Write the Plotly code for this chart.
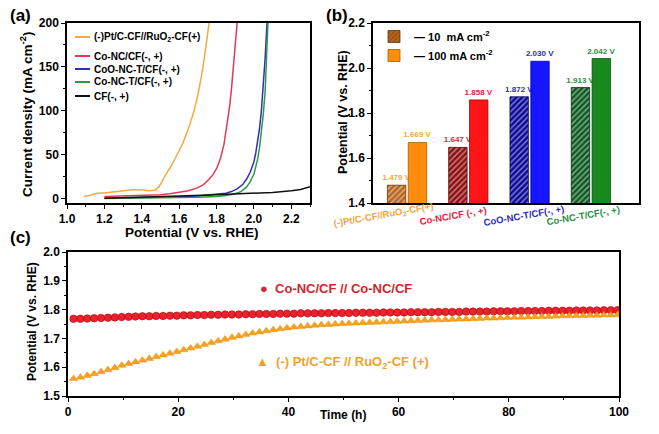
import plotly.graph_objects as go

W, H = 659, 434

# ---------------- Panel (a): polarization curves ----------------
a_names = ["(-)Pt/C-CF//RuO<sub>2</sub>-CF(+)", "Co-NC/CF(-, +)", "CoO-NC-T/CF(-, +)",
           "Co-NC-T/CF(-, +)", "CF(-, +)"]
a_colors = ["#f5a843", "#e23a52", "#2f2fb8", "#2e9a44", "#111111"]

pt_v = [1.09, 1.12, 1.15, 1.17, 1.20, 1.25, 1.30, 1.35, 1.40, 1.44, 1.47, 1.49, 1.51, 1.53,
        1.56, 1.59, 1.62, 1.65, 1.68, 1.70, 1.72, 1.74, 1.76]
pt_j = [2.5, 3.5, 5.5, 6.5, 6.5, 7.5, 9, 10, 10, 9, 9.5, 13, 20, 28, 38, 50, 63, 80, 100, 118,
        140, 168, 200]
conc_v = [1.20, 1.30, 1.40, 1.50, 1.55, 1.60, 1.65, 1.70, 1.73, 1.76, 1.78, 1.80, 1.82, 1.84,
          1.86, 1.87, 1.88, 1.89, 1.90, 1.91]
conc_j = [2.5, 3, 3.5, 4.5, 5.5, 7, 9, 12.5, 16, 22, 27, 34, 45, 62, 88, 105, 125, 148, 172, 200]
coo_v = [1.20, 1.40, 1.60, 1.70, 1.80, 1.85, 1.88, 1.91, 1.94, 1.96, 1.98, 2.00, 2.01, 2.02,
         2.03, 2.04, 2.05, 2.06, 2.07]
coo_j = [0.5, 1, 2, 3, 4.5, 6, 8, 11, 16, 22, 30, 42, 52, 64, 80, 100, 125, 160, 200]
cont_v = [1.20, 1.40, 1.60, 1.70, 1.80, 1.85, 1.90, 1.93, 1.96, 1.98, 2.00, 2.02, 2.03, 2.04,
          2.05, 2.06, 2.07, 2.075]
cont_j = [0, 0.5, 1, 1.5, 2.5, 3.5, 5.5, 8, 13, 19, 28, 45, 58, 75, 96, 122, 165, 200]
cf_v = [1.20, 1.40, 1.60, 1.80, 2.00, 2.10, 2.20, 2.25, 2.30]
cf_j = [0.5, 1.5, 3, 4.5, 6, 7, 9, 10.5, 13.5]
a_series = [(pt_v, pt_j), (conc_v, conc_j), (coo_v, coo_j), (cont_v, cont_j), (cf_v, cf_j)]

# ---------------- Panel (b): bar chart ----------------
b_categories = ["(-)Pt/C-CF//RuO<sub>2</sub>-CF(+)", "Co-NC/CF (-, +)", "CoO-NC-T/CF(-, +)",
                "Co-NC-T/CF(-, +)"]
b_10mA = [1.479, 1.647, 1.872, 1.913]
b_100mA = [1.669, 1.858, 2.030, 2.042]
b_label_colors = ["#f2a640", "#e8203a", "#2b2bc0", "#2a9040"]
b_hatch_bg = ["#b8661f", "#8e1010", "#0b0b96", "#0f5a22"]
b_hatch_fg = ["#6a3208", "#4e0000", "#00004e", "#032e0c"]
b_solid = ["#ff8c0a", "#ff1515", "#1515ff", "#17891f"]
b_solid_line = ["#b05a00", "#a00000", "#0000a0", "#0a5010"]

# ---------------- Panel (c): stability ----------------
time_h = [1.0, 2.25, 3.5, 4.75, 6.0, 7.25, 8.5, 9.75, 11.0, 12.25, 13.5, 14.75, 16.0, 17.25,
          18.5, 19.75, 21.0, 22.25, 23.5, 24.75, 26.0, 27.25, 28.5, 29.75, 31.0, 32.25, 33.5,
          34.75, 36.0, 37.25, 38.5, 39.75, 41.0, 42.25, 43.5, 44.75, 46.0, 47.25, 48.5, 49.75,
          51.0, 52.25, 53.5, 54.75, 56.0, 57.25, 58.5, 59.75, 61.0, 62.25, 63.5, 64.75, 66.0,
          67.25, 68.5, 69.75, 71.0, 72.25, 73.5, 74.75, 76.0, 77.25, 78.5, 79.75, 81.0, 82.25,
          83.5, 84.75, 86.0, 87.25, 88.5, 89.75, 91.0, 92.25, 93.5, 94.75, 96.0, 97.25, 98.5,
          99.75]
conc_pot = [1.768, 1.768, 1.769, 1.770, 1.771, 1.772, 1.773, 1.774, 1.775, 1.776, 1.777, 1.777,
            1.778, 1.778, 1.779, 1.779, 1.780, 1.780, 1.781, 1.781, 1.782, 1.782, 1.783, 1.783,
            1.783, 1.784, 1.784, 1.785, 1.785, 1.785, 1.786, 1.786, 1.786, 1.787, 1.787, 1.787,
            1.787, 1.788, 1.788, 1.788, 1.788, 1.789, 1.789, 1.789, 1.789, 1.790, 1.790, 1.790,
            1.790, 1.791, 1.791, 1.791, 1.791, 1.792, 1.792, 1.792, 1.792, 1.793, 1.793, 1.793,
            1.793, 1.794, 1.794, 1.794, 1.794, 1.795, 1.795, 1.795, 1.795, 1.796, 1.796, 1.796,
            1.796, 1.797, 1.797, 1.797, 1.797, 1.798, 1.798, 1.798]
ptc_pot = [1.560, 1.565, 1.571, 1.577, 1.584, 1.591, 1.598, 1.606, 1.612, 1.618, 1.624, 1.630,
           1.636, 1.642, 1.648, 1.654, 1.660, 1.666, 1.672, 1.678, 1.685, 1.691, 1.697, 1.703,
           1.708, 1.713, 1.718, 1.722, 1.726, 1.730, 1.733, 1.736, 1.739, 1.741, 1.743, 1.745,
           1.747, 1.748, 1.750, 1.751, 1.752, 1.753, 1.754, 1.755, 1.756, 1.757, 1.758, 1.759,
           1.760, 1.761, 1.762, 1.763, 1.764, 1.764, 1.765, 1.766, 1.767, 1.767, 1.768, 1.769,
           1.770, 1.770, 1.771, 1.772, 1.773, 1.773, 1.774, 1.775, 1.776, 1.776, 1.777, 1.778,
           1.778, 1.779, 1.779, 1.780, 1.780, 1.781, 1.781, 1.782]

FONT = "Liberation Sans, Arial, sans-serif"


def px(x):
    return x / W


def py(y):
    return 1 - y / H


fig = go.Figure()

# panel a traces
for name, col, (v, j) in zip(a_names, a_colors, a_series):
    fig.add_trace(go.Scatter(x=v, y=j, mode="lines", name=name, showlegend=False,
                             line=dict(color=col, width=1.5), xaxis="x", yaxis="y"))

# panel b traces
fig.add_trace(go.Bar(
    x=list(range(len(b_categories))), y=b_10mA, base=0, name="— 10  mA cm<sup>-2</sup>",
    offset=-0.32, width=0.3, xaxis="x2", yaxis="y2", legend="legend2",
    marker=dict(color=b_hatch_bg, line=dict(color=b_hatch_fg, width=0.8),
                pattern=dict(shape="/", bgcolor=b_hatch_bg, fgcolor=b_hatch_fg, size=4,
                             solidity=0.35)),
    texttemplate="%{y:.3f} V", textposition="outside", constraintext="none", cliponaxis=False,
    textfont=dict(color=b_label_colors, size=8, family=FONT, weight="bold")))
fig.add_trace(go.Bar(
    x=list(range(len(b_categories))), y=b_100mA, base=0, name="— 100 mA cm<sup>-2</sup>",
    offset=0.02, width=0.3, xaxis="x2", yaxis="y2", legend="legend2",
    marker=dict(color=b_solid, line=dict(color=b_solid_line, width=0.8)),
    texttemplate="%{y:.3f} V", textposition="outside", constraintext="none", cliponaxis=False,
    textfont=dict(color=b_label_colors, size=8, family=FONT, weight="bold")))

# panel c traces
fig.add_trace(go.Scatter(x=time_h, y=conc_pot, mode="markers", showlegend=False,
                         marker=dict(symbol="circle", size=7.5, color="#e8232c",
                                     line=dict(color="#b00010", width=0.6)),
                         xaxis="x3", yaxis="y3"))
fig.add_trace(go.Scatter(x=time_h, y=ptc_pot, mode="markers", showlegend=False,
                         marker=dict(symbol="triangle-up", size=7.5, color="#f7a21e",
                                     line=dict(color="#e08a00", width=0.4)),
                         xaxis="x3", yaxis="y3"))

tickfont = dict(family=FONT, size=12, color="black", weight="bold")
axis_common = dict(showline=True, linecolor="black", linewidth=1.5, mirror=True,
                   ticks="outside", ticklen=4, tickwidth=1.3, tickcolor="black",
                   showgrid=False, zeroline=False, tickfont=tickfont, automargin=False)

fig.update_layout(
    width=W, height=H, margin=dict(l=0, r=0, t=0, b=0, pad=0, autoexpand=False),
    paper_bgcolor="white", plot_bgcolor="white",
    font=dict(family=FONT, color="black"),
    barmode="overlay",
    xaxis=dict(domain=[px(67), px(310)], range=[1.0, 2.3], dtick=0.2, tick0=1.0,
               tickformat=".1f", anchor="y",
               minor=dict(dtick=0.1, ticks="outside", ticklen=2.5, tickcolor="black"),
               **axis_common),
    yaxis=dict(domain=[py(203), py(23)], range=[-5, 200], dtick=50, tick0=0, anchor="x",
               minor=dict(dtick=25, ticks="outside", ticklen=2.5, tickcolor="black"),
               **axis_common),
    xaxis2=dict(domain=[px(373), px(639)], range=[-0.555, 3.785], anchor="y2",
                showticklabels=False, showline=True, linecolor="black", linewidth=1.5,
                mirror=True, ticks="", showgrid=False, zeroline=False, automargin=False),
    yaxis2=dict(domain=[py(203), py(23)], range=[1.4, 2.2], dtick=0.2, tick0=1.4,
                tickformat=".1f", anchor="x2",
                minor=dict(dtick=0.1, ticks="outside", ticklen=2.5, tickcolor="black"),
                **axis_common),
    xaxis3=dict(domain=[px(68), px(619)], range=[0, 100], dtick=20, tick0=0, anchor="y3",
                minor=dict(dtick=10, ticks="outside", ticklen=2.5, tickcolor="black"),
                **axis_common),
    yaxis3=dict(domain=[py(396), py(252)], range=[1.5, 2.0], dtick=0.1, tick0=1.5,
                tickformat=".1f", anchor="x3",
                minor=dict(dtick=0.05, ticks="outside", ticklen=2.5, tickcolor="black"),
                **axis_common),
    yaxis4=dict(overlaying="y3", side="right", anchor="x3", range=[1.5, 2.0], dtick=0.1,
                tick0=1.5, tickformat=".1f",
                minor=dict(dtick=0.05, ticks="outside", ticklen=2.5, tickcolor="black"),
                showline=True, linecolor="black", linewidth=1.5, ticks="outside", ticklen=4,
                tickwidth=1.3, tickcolor="black", showgrid=False, zeroline=False,
                tickfont=tickfont, automargin=False),
    legend2=dict(x=px(374), y=py(22), xanchor="left", yanchor="top",
                 bgcolor="rgba(0,0,0,0)", font=dict(family=FONT, size=11, color="black",
                                                     weight="bold"),
                 tracegroupgap=0, itemwidth=30),
)


def A(text, x, y, **kw):
    d = dict(text=text, x=px(x), y=py(y), xref="paper", yref="paper", showarrow=False,
             xanchor="center", yanchor="middle")
    d.update(kw)
    return d


ann = []
# panel letters
for txt, x, y in [("(a)", 20, 15), ("(b)", 337, 15), ("(c)", 20, 237)]:
    ann.append(A(txt, x, y, font=dict(family=FONT, size=17, weight="bold")))
# axis titles
title_font = dict(family=FONT, size=13.5, weight="bold", color="black")
ann.append(A("Potential (V vs. RHE)", 192, 232, font=title_font))
ann.append(A("Current density (mA cm<sup>-2</sup>)", 26, 115, textangle=-90, font=title_font))
ann.append(A("Potential (V vs. RHE)", 343, 112, textangle=-90, font=dict(title_font, size=12.5)))
ann.append(A("Potential (V vs. RHE)", 32, 322, textangle=-90, font=dict(title_font, size=12)))
ann.append(A("Time (h)", 343, 415, font=dict(title_font, size=12)))

# panel a legend (custom)
leg_y = [37, 56, 69, 82, 96]
shapes = []
for name, col, yy in zip(a_names, a_colors, leg_y):
    shapes.append(dict(type="line", xref="paper", yref="paper", x0=px(75), x1=px(90),
                       y0=py(yy), y1=py(yy), line=dict(color=col, width=2)))
    ann.append(A(name, 92, yy, xanchor="left",
                 font=dict(family=FONT, size=10, weight="bold", color="black")))

# panel b category labels
b_shift = [-24, -15, -6, -8]
for i, (cat, col, sh) in enumerate(zip(b_categories, b_label_colors, b_shift)):
    ann.append(dict(text=cat, x=i, y=py(215), xref="x2", yref="paper", xshift=sh,
                    xanchor="center", yanchor="middle", showarrow=False, textangle=-10,
                    font=dict(family=FONT, size=9.5, weight="bold", color=col)))

# panel c labels
ann.append(A("●  Co-NC/CF // Co-NC/CF", 258, 288, xanchor="left",
             font=dict(family=FONT, size=13, weight="bold", color="#d8222e")))
ann.append(A("▲  (-) Pt/C-CF // RuO<sub>2</sub>-CF (+)", 254, 362, xanchor="left",
             font=dict(family=FONT, size=13, weight="bold", color="#f0a12c")))

fig.update_layout(annotations=ann, shapes=shapes)
fig.write_html("out.html")
